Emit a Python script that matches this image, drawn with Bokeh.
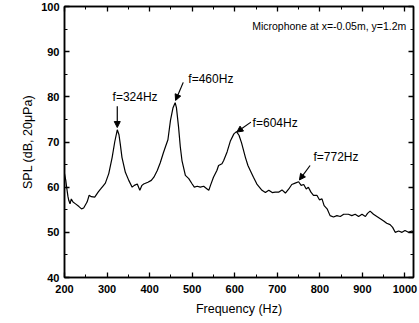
from bokeh.plotting import figure
from bokeh.models import (Range1d, FixedTicker, LinearAxis, Label, Arrow, NormalHead,
                          CustomJSTickFormatter)
from bokeh.embed import file_html
from bokeh.resources import INLINE

# Data
freq = [200, 203, 205, 208, 210, 213, 216, 220, 226, 234, 240, 245, 253, 258, 263, 271,
        279, 285, 290, 296, 304, 312, 318, 324, 328, 331, 335, 343, 351, 359, 364, 371,
        377, 382, 386, 396, 404, 410, 418, 425, 432, 437, 443, 449, 455, 460, 463, 468,
        472, 476, 484, 492, 500, 505, 512, 519, 527, 535, 539, 543, 550, 558, 562, 570,
        574, 582, 590, 598, 604, 610, 616, 625, 631, 637, 644, 652, 664, 672, 680, 688,
        695, 703, 711, 719, 727, 734, 742, 750, 756, 762, 768, 773, 779, 785, 793, 799,
        805, 810, 817, 824, 832, 840, 848, 856, 867, 875, 883, 891, 899, 907, 912, 918,
        926, 934, 942, 950, 957, 965, 971, 977, 985, 993, 1000, 1008, 1016, 1020]
spl = [63.0, 61.5, 60.0, 58.0, 57.1, 56.3, 57.4, 56.7, 56.3, 55.7, 55.2, 55.4, 56.7, 58.2, 57.9, 57.8,
       58.9, 59.6, 60.2, 60.9, 63.0, 66.6, 70.0, 72.7, 71.6, 69.6, 66.6, 63.3, 61.5, 60.0, 60.4, 60.7,
       59.3, 60.4, 60.7, 61.1, 61.5, 62.2, 63.7, 65.4, 67.5, 68.9, 70.5, 74.8, 77.6, 78.7, 77.6, 73.3,
       69.0, 65.9, 62.6, 61.9, 60.7, 60.0, 60.2, 60.0, 60.2, 59.6, 59.3, 60.4, 62.2, 63.7, 64.8, 65.2,
       65.9, 67.8, 70.3, 71.8, 72.3, 71.5, 69.8, 66.6, 64.8, 63.6, 62.2, 60.7, 59.3, 58.8, 59.3, 58.8,
       58.9, 58.9, 59.4, 58.7, 59.6, 60.6, 60.9, 61.2, 60.4, 60.6, 59.6, 60.0, 58.9, 58.2, 58.2, 57.2,
       57.4, 55.9, 55.2, 53.7, 53.4, 53.7, 53.5, 54.0, 54.0, 53.7, 54.0, 53.5, 54.0, 53.5, 54.2, 54.7,
       54.0, 53.5, 53.0, 52.5, 52.0, 51.7, 51.1, 50.0, 50.3, 50.0, 50.4, 50.0, 50.3, 50.0]

x_ticks = [200, 300, 400, 500, 600, 700, 800, 900, 1000]
y_ticks = [40, 50, 60, 70, 80, 90, 100]

peak_labels = ["f=324Hz", "f=460Hz", "f=604Hz", "f=772Hz"]
note = "Microphone at x=-0.05m, y=1.2m"

FONT = "Liberation Sans"

p = figure(width=419, height=323, output_backend="svg", toolbar_location=None,
           x_range=Range1d(200, 1020), y_range=Range1d(40, 100),
           min_border_left=64, min_border_right=6, min_border_top=6, min_border_bottom=46,
           background_fill_color="white", border_fill_color="white")
p.grid.visible = False
p.outline_line_color = "black"
p.outline_line_width = 1.5

p.line(freq, spl, line_color="black", line_width=1.2)

def style(ax, ticks, minor, show):
    ax.ticker = FixedTicker(ticks=ticks, minor_ticks=minor)
    ax.major_tick_in = 5
    ax.major_tick_out = 0
    ax.minor_tick_in = 3
    ax.minor_tick_out = 0
    ax.major_tick_line_width = 1.3
    ax.minor_tick_line_width = 1
    ax.axis_line_width = 1.5
    ax.axis_line_color = "black"
    ax.major_tick_line_color = "black"
    ax.minor_tick_line_color = "black"
    ax.major_label_text_font = FONT
    ax.major_label_text_font_style = "bold"
    ax.major_label_text_font_size = "11px"
    ax.major_label_text_color = "black"
    ax.axis_label_text_font = FONT
    ax.axis_label_text_font_style = "normal"
    ax.axis_label_text_font_size = "12.5px"
    ax.axis_label_text_color = "black"
    if not show:
        ax.formatter = CustomJSTickFormatter(code="return ''")
        ax.major_label_standoff = 0

x_minor = list(range(200, 1021, 50))
y_minor = list(range(40, 101, 5))
style(p.xaxis[0], x_ticks, x_minor, True)
style(p.yaxis[0], y_ticks, y_minor, True)
p.xaxis[0].axis_label = "Frequency (Hz)"
p.yaxis[0].axis_label = "SPL (dB, 20\u03bcPa)"
p.xaxis[0].major_label_standoff = 7
p.yaxis[0].major_label_standoff = 5
p.xaxis[0].axis_label_standoff = 6
p.yaxis[0].axis_label_standoff = 3

top = LinearAxis()
right = LinearAxis()
style(top, x_ticks, x_minor, False)
style(right, y_ticks, y_minor, False)
p.add_layout(top, "above")
p.add_layout(right, "right")

# Annotations
ann = [
    (peak_labels[0], 313, 80.0, (324, 77.9), (324, 73.2)),
    (peak_labels[1], 491, 84.0, (479, 83.2), (461, 79.2)),
    (peak_labels[2], 642, 74.3, (638, 74.4), (605, 72.2)),
    (peak_labels[3], 785, 66.6, (777, 64.8), (752, 61.6)),
]
for txt, lx, ly, a0, a1 in ann:
    p.add_layout(Label(x=lx, y=ly, text=txt, text_font=FONT, text_font_size="12px",
                       text_color="black", text_baseline="middle", text_align="left"))
    p.add_layout(Arrow(x_start=a0[0], y_start=a0[1], x_end=a1[0], y_end=a1[1],
                       line_width=1.2, line_color="black",
                       end=NormalHead(size=6, fill_color="black", line_color="black")))

p.add_layout(Label(x=1003, y=95.7, text=note, text_font=FONT, text_font_size="10.5px",
                   text_color="black", text_baseline="middle", text_align="right"))

open("out.html", "w").write(file_html(p, INLINE))
